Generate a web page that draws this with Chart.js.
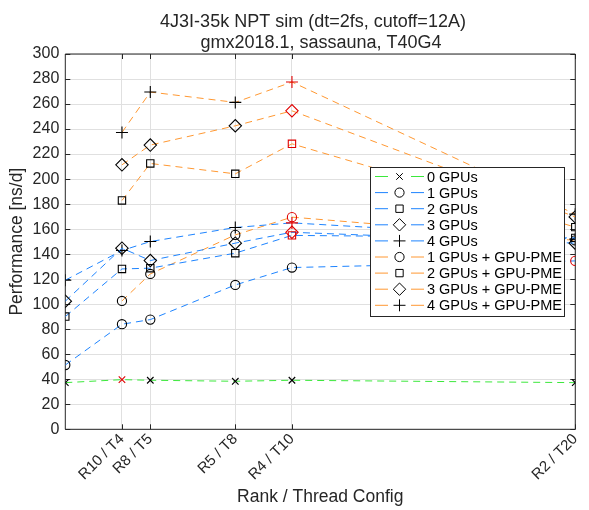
<!DOCTYPE html>
<html><head><meta charset="utf-8">
<script src="https://cdn.jsdelivr.net/npm/chart.js@4.4.0/dist/chart.umd.min.js"></script>
<style>html,body{margin:0;padding:0;background:#fff}#wrap{width:589px;height:510px;position:relative}</style>
</head><body><div id="wrap"><canvas id="c" width="589" height="510"></canvas></div>
<script>
// ---- data ----
const xValues = [2, 4, 5, 8, 10, 20];
const tickValues = [4, 5, 8, 10, 20];
const tickLabels = ['R10 / T4', 'R8 / T5', 'R5 / T8', 'R4 / T10', 'R2 / T20'];
const titleLines = ['4J3I-35k NPT sim (dt=2fs, cutoff=12A)', 'gmx2018.1, sassauna, T40G4'];
const xTitle = 'Rank / Thread Config';
const yTitle = 'Performance [ns/d]';
const seriesNames = ['0 GPUs', '1 GPUs', '2 GPUs', '3 GPUs', '4 GPUs',
  '1 GPUs + GPU-PME', '2 GPUs + GPU-PME', '3 GPUs + GPU-PME', '4 GPUs + GPU-PME'];
const gpu0 = [37.3, 39.7, 39.2, 38.4, 39.2, 37.3];
const gpu1 = [51.4, 84.0, 87.7, 115.4, 129.3, 134.6];
const gpu2 = [90.1, 128.2, 128.8, 140.8, 155.0, 153.0];
const gpu3 = [102.4, 144.8, 134.9, 148.8, 157.5, 148.8];
const gpu4 = [119.2, 142.9, 150.1, 161.3, 165.0, 152.0];
const pme1 = [null, 102.6, 124.2, 155.4, 169.6, 151.0];
const pme2 = [null, 182.9, 212.5, 204.2, 228.2, 161.6];
const pme3 = [null, 211.4, 227.2, 242.6, 254.6, 169.8];
const pme4 = [null, 237.3, 269.6, 261.3, 277.6, 172.0];
const seriesValues = [gpu0, gpu1, gpu2, gpu3, gpu4, pme1, pme2, pme3, pme4];

// ---- styles ----
const GREEN = 'rgb(60,232,60)', BLUE = 'rgb(30,132,255)', ORANGE = 'rgb(255,152,50)';
const RED = '#e00000', INK = '#262626';
const colors = [GREEN, BLUE, BLUE, BLUE, BLUE, ORANGE, ORANGE, ORANGE, ORANGE];
const styles = ['crossRot', 'circle', 'rect', 'rectRot', 'cross', 'circle', 'rect', 'rectRot', 'cross'];
const radii = { crossRot: 4.6, circle: 4.6, rect: 5.2, rectRot: 6.2, cross: 6 };
const FONT = '"Liberation Sans", Arial, Helvetica, sans-serif';

const datasets = seriesValues.map((vals, k) => {
  const mx = Math.max(...vals.filter(v => v !== null));
  return {
    label: seriesNames[k],
    data: xValues.map((x, i) => ({ x: x, y: vals[i] })),
    borderColor: colors[k],
    borderWidth: 1,
    borderDash: [7, 5],
    fill: false,
    tension: 0,
    pointStyle: styles[k],
    pointRadius: radii[styles[k]],
    pointHoverRadius: radii[styles[k]],
    pointBorderWidth: 1.1,
    pointBackgroundColor: 'rgba(0,0,0,0)',
    pointBorderColor: vals.map(v => v === mx ? RED : '#000'),
  };
});

const frame = {
  id: 'frame',
  beforeDatasetsDraw(chart) {
    const { ctx, chartArea: a, scales } = chart;
    ctx.save();
    ctx.strokeStyle = INK;
    ctx.lineWidth = 1;
    ctx.beginPath();
    ctx.rect(a.left, a.top, a.right - a.left, a.bottom - a.top);
    const yt = scales.y.ticks;
    yt.forEach(t => {
      const py = Math.round(scales.y.getPixelForValue(t.value)) + 0.5;
      ctx.moveTo(a.left, py); ctx.lineTo(a.left + 5, py);
      ctx.moveTo(a.right, py); ctx.lineTo(a.right - 5, py);
    });
    tickValues.forEach(v => {
      const px = Math.round(scales.x.getPixelForValue(v)) + 0.5;
      ctx.moveTo(px, a.bottom); ctx.lineTo(px, a.bottom - 5);
      ctx.moveTo(px, a.top); ctx.lineTo(px, a.top + 5);
    });
    ctx.stroke();
    ctx.restore();
  },
  afterDraw(chart) {
    const { ctx, chartArea: a } = chart;
    ctx.save();
    // titles
    ctx.fillStyle = INK;
    ctx.font = '18px ' + FONT;
    ctx.textAlign = 'center';
    ctx.textBaseline = 'alphabetic';
    ctx.fillText(titleLines[0], 313, 27);
    ctx.fillText(titleLines[1], 321, 48);
    // legend
    const L = 370, T = 167, R = 564, B = 316;
    ctx.fillStyle = '#fff';
    ctx.fillRect(L, T, R - L, B - T);
    ctx.strokeStyle = INK;
    ctx.lineWidth = 1;
    ctx.strokeRect(L + 0.5, T + 0.5, R - L, B - T);
    ctx.font = '14.5px ' + FONT;
    ctx.textAlign = 'left';
    ctx.textBaseline = 'middle';
    chart.data.datasets.forEach((ds, k) => {
      const y = T + 9.5 + k * 16.1;
      ctx.strokeStyle = ds.borderColor;
      ctx.lineWidth = 1;
      ctx.setLineDash([]);
      ctx.beginPath();
      ctx.moveTo(375, y); ctx.lineTo(388, y);
      ctx.moveTo(411, y); ctx.lineTo(424, y);
      ctx.stroke();
      ctx.strokeStyle = '#000';
      ctx.fillStyle = 'rgba(0,0,0,0)';
      Chart.helpers.drawPoint(ctx, { pointStyle: ds.pointStyle, radius: ds.pointRadius, rotation: 0, borderWidth: 1.1 }, 399.5, y);
      ctx.fillStyle = '#000';
      ctx.fillText(ds.label, 427, y + 1);
    });
    ctx.restore();
  }
};

new Chart(document.getElementById('c'), {
  type: 'line',
  data: { datasets: datasets },
  plugins: [frame],
  options: {
    responsive: false,
    animation: false,
    devicePixelRatio: 1,
    layout: { padding: { top: 54, right: 9.3, left: 0, bottom: 0 }, autoPadding: false },
    plugins: { legend: { display: false }, title: { display: false }, tooltip: { enabled: false } },
    scales: {
      x: {
        type: 'linear', min: 2, max: 20,
        afterBuildTicks: s => { s.ticks = tickValues.map(v => ({ value: v })); },
        afterFit: s => { s.height = 510 - 429.3; },
        ticks: {
          autoSkip: false, minRotation: 45, maxRotation: 45, padding: 1,
          color: INK, font: { family: FONT, size: 15 },
          callback: v => { const i = tickValues.indexOf(v); return i >= 0 ? tickLabels[i] : ''; }
        },
        grid: { color: '#e0e0e0', lineWidth: 1, drawTicks: false },
        border: { display: false },
        title: { display: true, text: xTitle, color: INK, font: { family: FONT, size: 17.5 }, padding: { top: 0, bottom: 2 } }
      },
      y: {
        type: 'linear', min: 0, max: 300,
        afterFit: s => { s.width = 65.3; },
        ticks: { stepSize: 20, padding: 6, color: INK, font: { family: FONT, size: 16 } },
        grid: { color: '#e0e0e0', lineWidth: 1, drawTicks: false },
        border: { display: false },
        title: { display: true, text: yTitle, color: INK, font: { family: FONT, size: 17.5 }, padding: { top: 7, bottom: 0 } }
      }
    }
  }
});
</script>
</body></html>
